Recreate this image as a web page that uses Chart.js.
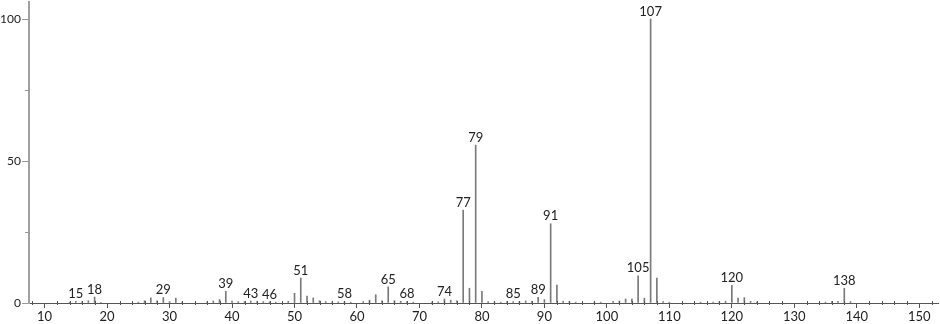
<!DOCTYPE html>
<html>
<head>
<meta charset="utf-8">
<script src="https://cdn.jsdelivr.net/npm/chart.js@4/dist/chart.umd.min.js"></script>
<style>
  body { margin: 0; background: #fff; }
  #wrap { width: 940px; height: 324px; }
</style>
</head>
<body>
<div id="wrap"><canvas id="spectrum"></canvas></div>
<script>
// m/z values and relative intensities
const masses = [14, 15, 16, 17, 18, 19, 25, 26, 27, 28, 29, 30, 31, 32, 36, 37, 38, 39, 40, 41,
    42, 43, 44, 45, 46, 47, 49, 50, 51, 52, 53, 54, 55, 56, 57, 58, 59, 61, 62, 63,
    64, 65, 66, 67, 68, 69, 72, 73, 74, 75, 76, 77, 78, 79, 80, 81, 82, 83, 84, 85,
    86, 87, 88, 89, 90, 91, 92, 93, 94, 95, 98, 99, 101, 102, 103, 104, 105, 106, 107, 108,
    109, 110, 115, 117, 118, 119, 120, 121, 122, 123, 124, 135, 136, 137, 138, 139];
const intensities = [0.3, 0.6, 0.4, 0.8, 2.1, 0.2, 0.3, 0.8, 1.8, 0.8, 1.9, 0.5, 1.7, 0.3, 0.3, 0.7, 1.2, 4.1, 0.7, 0.5,
    0.5, 0.7, 0.5, 0.5, 0.4, 0.3, 0.6, 3.4, 8.8, 2.4, 1.8, 0.8, 0.5, 0.3, 0.4, 0.5, 0.3, 0.5, 1.0, 2.9,
    0.8, 5.7, 0.8, 0.6, 0.5, 0.3, 0.3, 0.4, 1.4, 1.0, 0.8, 32.7, 5.2, 55.6, 4.1, 0.5, 0.3, 0.3, 0.5, 0.5,
    0.5, 0.7, 0.6, 2.0, 1.2, 27.9, 6.3, 0.6, 0.5, 0.3, 0.3, 0.3, 0.6, 0.7, 1.4, 1.4, 9.6, 1.7, 100, 8.8,
    0.5, 0.3, 0.3, 0.3, 0.4, 0.6, 6.2, 1.7, 1.9, 0.6, 0.3, 0.3, 0.5, 0.6, 5.2, 0.5];

// peaks that carry a number above them
const labelledPeaks = [15, 18, 29, 39, 43, 46, 51, 58, 65, 68, 74, 77, 79, 85, 89, 91, 105, 107, 120, 138];

// axis ticks
const xMajorStep = 10;
const xMinorStep = 2;
const yLabelTicks = [0, 50, 100];
const yMinorTicks = [25, 75];

const labelFont = '13px Lato';

// numbers over the peaks
const peakLabels = {
    id: 'peakLabels',
    afterDatasetsDraw(chart) {
        const { ctx, scales: { x, y } } = chart;
        ctx.save();
        ctx.font = labelFont;
        ctx.fillStyle = '#222';
        ctx.textAlign = 'center';
        ctx.textBaseline = 'bottom';
        labelledPeaks.forEach(m => {
            const i = masses.indexOf(m);
            ctx.fillText(String(m), x.getPixelForValue(m), y.getPixelForValue(intensities[i]) - 1);
        });
        ctx.restore();
    }
};

// small ticks between the labelled ones
const minorTicks = {
    id: 'minorTicks',
    afterDraw(chart) {
        const { ctx, scales: { x, y } } = chart;
        ctx.save();
        ctx.lineWidth = 1;
        ctx.strokeStyle = '#555';
        ctx.beginPath();
        for (let v = Math.ceil(x.min / xMinorStep) * xMinorStep; v <= x.max; v += xMinorStep) {
            if (v % xMajorStep === 0) continue;
            const px = Math.round(x.getPixelForValue(v)) + 0.5;
            ctx.moveTo(px, y.bottom - 2);
            ctx.lineTo(px, y.bottom + 2);
        }
        ctx.stroke();
        ctx.strokeStyle = '#999';
        ctx.beginPath();
        yMinorTicks.forEach(v => {
            const py = Math.round(y.getPixelForValue(v)) + 0.5;
            ctx.moveTo(x.left - 4, py);
            ctx.lineTo(x.left, py);
        });
        ctx.stroke();
        ctx.restore();
    }
};

const noPad = s => { s.paddingTop = 0; s.paddingBottom = 0; s.paddingLeft = 0; s.paddingRight = 0; };

const ctx = document.getElementById('spectrum').getContext('2d');
new Chart(ctx, {
    type: 'bar',
    data: {
        datasets: [{
            data: masses.map((m, i) => ({ x: m, y: intensities[i] })),
            backgroundColor: '#7a7a7a',
            borderWidth: 0,
            barThickness: 1,
            grouped: false
        }]
    },
    options: {
        responsive: true,
        maintainAspectRatio: false,
        animation: false,
        devicePixelRatio: 1,
        layout: { padding: { top: 2, right: 2, left: 0, bottom: 0 } },
        plugins: { legend: { display: false }, tooltip: { enabled: false } },
        scales: {
            x: {
                type: 'linear',
                offset: false,
                min: 7.5,
                max: 153,
                afterFit: s => { noPad(s); s.height = 21; },
                border: { color: '#555', width: 1 },
                grid: { offset: false, drawOnChartArea: false, tickLength: 5, tickColor: '#555' },
                ticks: {
                    stepSize: xMajorStep,
                    includeBounds: false,
                    autoSkip: false,
                    maxRotation: 0,
                    padding: 1,
                    color: '#222',
                    font: { family: 'Lato', size: 13 }
                }
            },
            y: {
                min: 0,
                max: 106,
                afterFit: s => { noPad(s); s.width = 29; },
                afterBuildTicks: s => { s.ticks = yLabelTicks.map(v => ({ value: v })); },
                border: { color: '#a0a0a0', width: 2 },
                grid: { drawOnChartArea: false, tickLength: 7, tickColor: '#999' },
                ticks: {
                    padding: 1,
                    color: '#222',
                    font: { family: 'Lato', size: 12 }
                }
            }
        }
    },
    plugins: [peakLabels, minorTicks]
});
</script>
</body>
</html>
